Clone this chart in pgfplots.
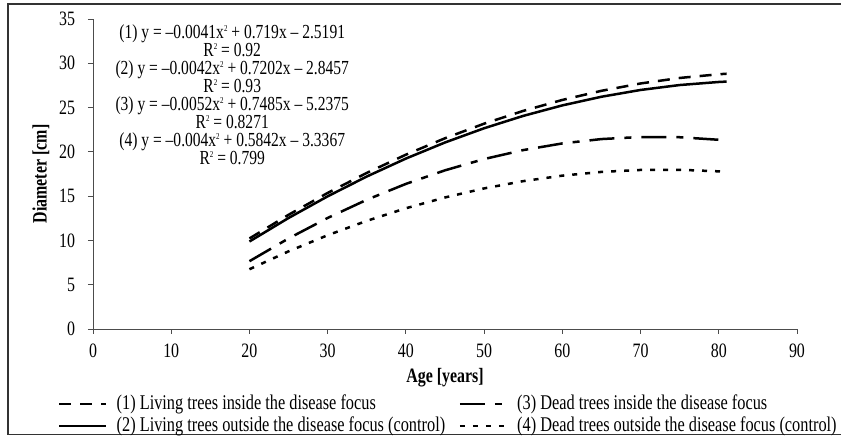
\documentclass[border=0pt]{standalone}
\usepackage{fontspec}
\setmainfont[FakeStretch=0.78]{Liberation Serif}
\usepackage{pgfplots}
\pgfplotsset{compat=1.18}
\newcommand{\fs}{\fontsize{20.5}{18}\selectfont}
\newcommand{\eqfont}{\fontsize{20}{18.1}\selectfont\lineskiplimit=-20pt\relax}
\newcommand{\sq}{\smash{\raisebox{0.36em}{\fontsize{9}{9}\selectfont 2}}}
\begin{document}
\fs
\begin{tikzpicture}
\useasboundingbox (0,0) rectangle (841bp,436bp);
\begin{scope}
\clip (0,0) rectangle (841bp,436bp);
\draw[line width=1.6bp, black!80] (860bp,432bp) -- (8bp,432bp) -- (8bp,1.5bp) -- (860bp,1.5bp);
\end{scope}
\begin{axis}[
  at={(93bp,107bp)}, anchor=south west,
  scale only axis, width=704bp, height=310bp,
  xmin=0, xmax=90, ymin=0, ymax=35,
  xtick={0,10,...,90}, ytick={0,5,...,35},
  axis x line=bottom, axis y line=left,
  axis line style={-, line width=0.8bp, black!70},
  tick style={line width=0.8bp, black!70},
  tick align=outside, major tick length=5bp,
  /pgf/number format/assume math mode=true,
  ticklabel style={font=\fs},
  xticklabel style={yshift=-3bp},
  yticklabel style={xshift=-6bp},
  xlabel={Age [years]}, ylabel={Diameter [cm]},
  label style={font=\bfseries\fs},
  xlabel style={at={(axis description cs:0.5,-0.158)}, anchor=center},
  ylabel style={at={(axis description cs:-0.074,0.5)}, anchor=center},
  legend columns=2, transpose legend,
  legend cell align=left,
  legend image code/.code={\draw[#1] (0bp,0bp) -- (47bp,0bp);},
  legend style={at={(axis description cs:-0.054,-0.2)}, anchor=north west,
    draw=none, fill=none, font=\fontsize{21}{18}\selectfont,
    row sep=0bp, nodes={inner sep=2bp},
    /tikz/every odd column/.append style={column sep=7bp},
    /tikz/every even column/.append style={column sep=18bp}},
]
\addplot[black, line width=2.5bp, dash pattern=on 12bp off 9bp] coordinates {
(20,10.221) (25,12.893) (30,15.361) (35,17.623) (40,19.681) (45,21.534) (50,23.181)
(55,24.624) (60,25.861) (65,26.893) (70,27.721) (75,28.343) (80,28.761) (81,28.820)};
\addlegendentry{\makebox[322bp][l]{(1) Living trees inside the disease focus}}
\addplot[black, line width=2.5bp] coordinates {
(20,9.878) (25,12.534) (30,14.980) (35,17.216) (40,19.242) (45,21.058) (50,22.664)
(55,24.060) (60,25.246) (65,26.222) (70,26.988) (75,27.544) (80,27.890) (81,27.934)};
\addlegendentry{\makebox[322bp][l]{(2) Living trees outside the disease focus (control)}}
\addplot[black, line width=2.5bp, dash pattern=on 25bp off 10bp on 7bp off 10bp] coordinates {
(20,7.653) (25,10.225) (30,12.538) (35,14.590) (40,16.383) (45,17.915) (50,19.188)
(55,20.200) (60,20.953) (65,21.445) (70,21.678) (75,21.650) (80,21.363) (81,21.274)};
\addlegendentry{(3) Dead trees inside the disease focus}
\addplot[black, line width=2.5bp, dash pattern=on 5bp off 8bp] coordinates {
(20,6.747) (25,8.768) (30,10.589) (35,12.210) (40,13.631) (45,14.852) (50,15.873)
(55,16.694) (60,17.315) (65,17.736) (70,17.957) (75,17.978) (80,17.799) (81,17.740)};
\addlegendentry{(4) Dead trees outside the disease focus (control)}
\node[anchor=north, align=center, font=\eqfont, inner sep=0pt] at (axis cs:17.8,34.4) {%
(1) y = –0.0041x\sq{} + 0.719x – 2.5191\\
R\sq{} = 0.92\\
(2) y = –0.0042x\sq{} + 0.7202x – 2.8457\\
R\sq{} = 0.93\\
(3) y = –0.0052x\sq{} + 0.7485x – 5.2375\\
R\sq{} = 0.8271\\
(4) y = –0.004x\sq{} + 0.5842x – 3.3367\\
R\sq{} = 0.799};
\end{axis}
\end{tikzpicture}
\end{document}
